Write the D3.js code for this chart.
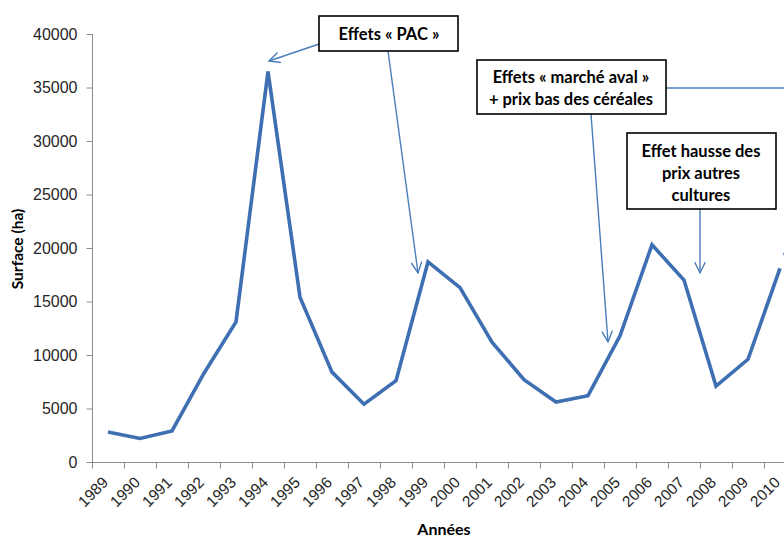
<!DOCTYPE html>
<html>
<head>
<meta charset="utf-8">
<script src="https://cdn.jsdelivr.net/npm/d3@7"></script>
<style>
  html, body { margin: 0; padding: 0; background: #fff; }
  svg { display: block; }
</style>
</head>
<body>
<script>
// ---- data ----
const years = ["1989","1990","1991","1992","1993","1994","1995","1996","1997","1998","1999",
               "2000","2001","2002","2003","2004","2005","2006","2007","2008","2009","2010"];
const surface = [2800, 2200, 2900, 8300, 13100, 36500, 15400, 8400, 5400, 7600, 18700,
                 16300, 11200, 7700, 5600, 6200, 11800, 20300, 17000, 7100, 9600, 18100];
const yTicks = [0, 5000, 10000, 15000, 20000, 25000, 30000, 35000, 40000];
const yTitle = "Surface (ha)";
const xTitle = "Années";
const notes = [
  { lines: ["Effets « PAC »"] },
  { lines: ["Effets « marché aval »", "+ prix bas des céréales"] },
  { lines: ["Effet hausse des", "prix autres", "cultures"] }
];

// ---- layout ----
const W = 784, H = 538;
const svg = d3.select("body").append("svg").attr("width", W).attr("height", H);

const x = d3.scaleBand().domain(years).range([92, 796]).padding(0);
const y = d3.scaleLinear().domain([0, 40000]).range([462, 34]);
const cx = d => x(d) + x.bandwidth() / 2;

const axisCol = "#8c8c8c";
const txtCol = "#262626";
const lineCol = "#3f6fb3";
const arrowCol = "#4a7ebb";

// y axis
const yAxis = d3.axisLeft(y).tickValues(yTicks).tickSize(6).tickPadding(9).tickFormat(d3.format("d"));
const gy = svg.append("g").attr("transform", "translate(92.5,0)").call(yAxis);
gy.select(".domain").attr("stroke", axisCol).attr("d", `M-0,${y(40000)}V${y(0)}`);
gy.selectAll(".tick line").attr("stroke", axisCol);
gy.selectAll(".tick text").attr("fill", txtCol).style("font-family", "'Liberation Sans', Arial, sans-serif").style("font-size", "16px");

// x axis (ticks between categories)
const gx = svg.append("g").attr("transform", `translate(0,${y(0) + 0.5})`);
gx.append("line").attr("x1", 92).attr("x2", 800).attr("stroke", axisCol);
const bounds = years.map(d => x(d)).concat([x(years[years.length - 1]) + x.bandwidth()]);
gx.selectAll("line.tk").data(bounds).join("line").attr("class", "tk")
  .attr("x1", d => d + 0.5).attr("x2", d => d + 0.5).attr("y1", 0).attr("y2", 6).attr("stroke", axisCol);
gx.selectAll("text").data(years).join("text")
  .attr("transform", d => `translate(${cx(d) + 1},${21}) rotate(-45)`)
  .attr("text-anchor", "end")
  .attr("fill", txtCol)
  .style("font-family", "'Liberation Sans', Arial, sans-serif").style("font-size", "15.5px")
  .text(d => d);

// axis titles
svg.append("text").attr("transform", `translate(23,${(y(0) + y(40000)) / 2 + 1}) rotate(-90)`)
  .attr("text-anchor", "middle").attr("fill", "#000")
  .style("font-family", "Lato, sans-serif").style("font-weight", "bold").style("font-size", "15.5px")
  .text(yTitle);
svg.append("text").attr("x", 444).attr("y", 535).attr("text-anchor", "middle").attr("fill", "#000")
  .style("font-family", "Lato, sans-serif").style("font-weight", "bold").style("font-size", "16px")
  .text(xTitle);

// line
const line = d3.line().x((d, i) => cx(years[i])).y(d => y(d));
svg.append("path").datum(surface).attr("d", line)
  .attr("fill", "none").attr("stroke", lineCol).attr("stroke-width", 3.6)
  .attr("stroke-linejoin", "miter").attr("stroke-linecap", "butt");

// ---- annotations ----
function arrow(pts) {
  svg.append("path").attr("d", d3.line()(pts)).attr("fill", "none")
    .attr("stroke", arrowCol).attr("stroke-width", 1.4);
  const [a, b] = [pts[pts.length - 2], pts[pts.length - 1]];
  const ang = Math.atan2(b[1] - a[1], b[0] - a[0]);
  const L = 12, spread = 0.45;
  const p1 = [b[0] - L * Math.cos(ang - spread), b[1] - L * Math.sin(ang - spread)];
  const p2 = [b[0] - L * Math.cos(ang + spread), b[1] - L * Math.sin(ang + spread)];
  svg.append("path").attr("d", d3.line()([p1, b, p2])).attr("fill", "none")
    .attr("stroke", arrowCol).attr("stroke-width", 1.4);
}

// arrows (drawn before boxes)
arrow([[322, 43], [269, 61]]);
arrow([[388, 51], [418, 273]]);
arrow([[591, 114], [608, 342]]);
svg.append("path").attr("d", "M666,88H800").attr("stroke", arrowCol).attr("stroke-width", 1.4).attr("fill", "none");
arrow([[800, 88], [788, 264]]);
arrow([[700, 209], [700, 273]]);

const boxes = [
  { x0: 319, y0: 16, x1: 458, y1: 51, cx: 389, ty: 40 },
  { x0: 477, y0: 60, x1: 666, y1: 114, cx: 571, ty: 83 },
  { x0: 627, y0: 133, x1: 776, y1: 209, cx: 701, ty: 157 }
];
boxes.forEach((b, i) => {
  svg.append("rect").attr("x", b.x0).attr("y", b.y0).attr("width", b.x1 - b.x0).attr("height", b.y1 - b.y0)
    .attr("fill", "#fff").attr("stroke", "#000").attr("stroke-width", 1.6);
  const t = svg.append("text").attr("text-anchor", "middle").attr("fill", "#000")
    .style("font-family", "Lato, sans-serif").style("font-weight", "bold").style("font-size", "16.5px");
  notes[i].lines.forEach((ln, k) => {
    t.append("tspan").attr("x", b.cx).attr("y", b.ty + k * 22).text(ln);
  });
});
</script>
</body>
</html>
